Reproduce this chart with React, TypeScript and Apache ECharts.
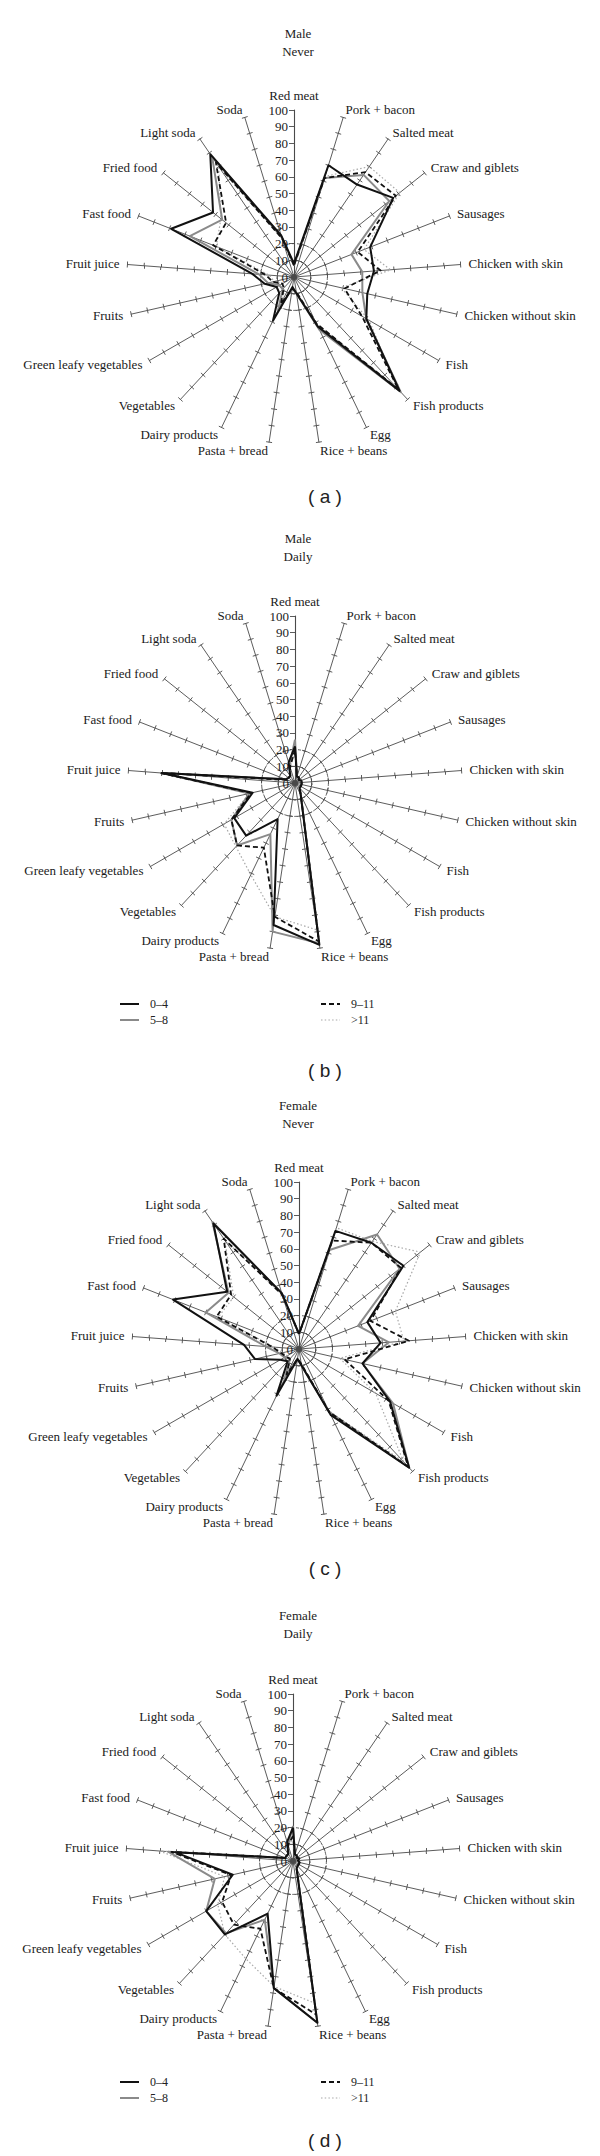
import React, { useEffect, useRef } from 'react';
import * as echarts from 'echarts';

// ---------- data ----------
const CATEGORIES = [
  'Red meat', 'Pork + bacon', 'Salted meat', 'Craw and giblets', 'Sausages',
  'Chicken with skin', 'Chicken without skin', 'Fish', 'Fish products', 'Egg',
  'Rice + beans', 'Pasta + bread', 'Dairy products', 'Vegetables',
  'Green leafy vegetables', 'Fruits', 'Fruit juice', 'Fast food', 'Fried food',
  'Light soda', 'Soda',
];
const AGE_GROUPS = ['0–4', '5–8', '9–11', '>11'];
const PANEL_TITLES = [['Male', 'Never'], ['Male', 'Daily'], ['Female', 'Never'], ['Female', 'Daily']];
const PANEL_CAPTIONS = ['( a )', '( b )', '( c )', '( d )'];
const PANEL_HAS_LEGEND = [false, true, false, true];
const AXIS_MIN = 0;
const AXIS_MAX = 100;
const AXIS_SPLITS = 10;

// (a) Male, never
const maleNever_0_4 = [8, 70, 67, 76, 49, 48, 45, 50, 93, 33, 10, 6, 29, 13, 12, 18, 25, 79, 62, 89, 26];
const maleNever_5_8 = [7, 62, 74, 73, 37, 41, 42, 50, 94, 35, 10, 7, 22, 10, 10, 16, 21, 67, 55, 87, 25];
const maleNever_9_11 = [7, 62, 76, 78, 41, 52, 31, 47, 92, 31, 9, 7, 18, 9, 8, 13, 17, 52, 52, 83, 24];
const maleNever_gt11 = [7, 63, 80, 81, 45, 58, 29, 52, 91, 31, 9, 7, 16, 8, 8, 12, 15, 50, 56, 80, 24];

// (b) Male, daily
const maleDaily_0_4 = [22, 4, 4, 3, 4, 4, 4, 4, 4, 8, 98, 86, 24, 43, 42, 26, 80, 6, 5, 5, 13];
const maleDaily_5_8 = [26, 4, 4, 3, 4, 4, 4, 4, 4, 8, 97, 90, 34, 51, 44, 28, 80, 6, 5, 5, 11];
const maleDaily_9_11 = [20, 4, 4, 3, 4, 4, 4, 4, 4, 8, 96, 81, 43, 51, 44, 27, 81, 5, 5, 5, 10];
const maleDaily_gt11 = [18, 4, 4, 3, 4, 4, 4, 4, 4, 7, 89, 81, 61, 52, 49, 28, 77, 5, 5, 5, 10];

// (c) Female, never
const femaleNever_0_4 = [9, 74, 77, 80, 44, 49, 39, 63, 97, 44, 10, 6, 31, 10, 13, 27, 33, 81, 55, 91, 35];
const femaleNever_5_8 = [9, 62, 83, 77, 38, 54, 39, 65, 97, 42, 10, 6, 20, 8, 10, 12, 20, 60, 54, 92, 35];
const femaleNever_9_11 = [9, 68, 77, 78, 46, 66, 28, 62, 96, 42, 9, 6, 17, 8, 9, 11, 16, 53, 52, 80, 34];
const femaleNever_gt11 = [8, 76, 78, 93, 62, 63, 25, 53, 92, 41, 9, 6, 15, 8, 8, 10, 15, 52, 50, 79, 34];

// (d) Female, daily
const femaleDaily_0_4 = [20, 4, 4, 3, 4, 3, 4, 4, 4, 5, 98, 77, 35, 60, 60, 37, 71, 5, 5, 5, 12];
const femaleDaily_5_8 = [21, 4, 4, 3, 4, 3, 4, 4, 4, 5, 98, 77, 39, 59, 60, 48, 75, 5, 5, 5, 10];
const femaleDaily_9_11 = [15, 4, 4, 3, 4, 3, 4, 4, 4, 5, 93, 77, 45, 52, 49, 38, 73, 5, 5, 5, 10];
const femaleDaily_gt11 = [14, 4, 4, 3, 4, 3, 4, 4, 4, 5, 86, 76, 65, 60, 52, 42, 80, 5, 5, 5, 9];

const PANEL_VALUES = [
  [maleNever_0_4, maleNever_5_8, maleNever_9_11, maleNever_gt11],
  [maleDaily_0_4, maleDaily_5_8, maleDaily_9_11, maleDaily_gt11],
  [femaleNever_0_4, femaleNever_5_8, femaleNever_9_11, femaleNever_gt11],
  [femaleDaily_0_4, femaleDaily_5_8, femaleDaily_9_11, femaleDaily_gt11],
];

// ---------- layout & styles ----------
const W = 600;
const H = 2156;
const R = 167;
const LAYOUT = [
  { cx: 294, cy: 277, titleY: 33, captionY: 496 },
  { cx: 295, cy: 783, titleY: 538, captionY: 1070 },
  { cx: 299, cy: 1349, titleY: 1105, captionY: 1568 },
  { cx: 293, cy: 1861, titleY: 1615, captionY: 2140 },
];
const SERIF = "'Liberation Serif', 'DejaVu Serif', serif";
const SANS = "'Liberation Sans', Arial, sans-serif";
const AXIS_COLOR = '#4a4a4a';

const LINE_STYLES = [
  { color: '#111', width: 2, type: 'solid' },
  { color: '#8a8a8a', width: 2, type: 'solid' },
  { color: '#111', width: 1.8, type: [5, 3] },
  { color: '#a8a8a8', width: 1.2, type: [1.5, 2.2] },
];
const Z_ORDER = [6, 4, 5, 3];

// radar indicators are laid out counter-clockwise; the figure goes clockwise
function clockwise<T>(arr: T[]): T[] {
  return [arr[0], ...arr.slice(1).reverse()];
}

const SPLIT_COLORS = Array.from({ length: AXIS_SPLITS + 1 }, (_, i) =>
  i === 1 || i === 2 ? '#333' : 'rgba(0,0,0,0)'
);

function buildOption() {
  const radar: any[] = [];
  const series: any[] = [];
  const graphic: any[] = [];

  PANEL_VALUES.forEach((values, pi) => {
    const L = LAYOUT[pi];
    const names = clockwise(CATEGORIES);
    radar.push({
      center: [L.cx, L.cy],
      radius: R,
      startAngle: 90,
      shape: 'circle',
      splitNumber: AXIS_SPLITS,
      indicator: names.map((name, i) =>
        i === 0
          ? {
              name, min: AXIS_MIN, max: AXIS_MAX,
              axisTick: { length: 5 },
              axisLine: { lineStyle: { width: 1.1 } },
              axisLabel: { show: true, color: '#222', fontSize: 13, fontFamily: SERIF, margin: 6 },
            }
          : { name, min: AXIS_MIN, max: AXIS_MAX }
      ),
      axisName: { color: '#1a1a1a', fontSize: 13, fontFamily: SERIF },
      nameGap: 8,
      axisLine: { show: true, lineStyle: { color: AXIS_COLOR, width: 0.9 } },
      axisTick: { show: true, length: 3, lineStyle: { color: AXIS_COLOR, width: 0.9 } },
      axisLabel: { show: false },
      splitLine: { show: true, lineStyle: { color: SPLIT_COLORS, type: [3, 2], width: 0.8 } },
      splitArea: { show: false },
    });
    // overlay radar: tick marks on the other side of each spoke
    radar.push({
      center: [L.cx, L.cy],
      radius: R,
      startAngle: 90,
      shape: 'circle',
      splitNumber: AXIS_SPLITS,
      indicator: names.map((name, i) =>
        i === 0
          ? { name, min: AXIS_MIN, max: AXIS_MAX, axisTick: { show: false } }
          : { name, min: AXIS_MIN, max: AXIS_MAX }
      ),
      axisName: { show: false },
      axisLine: { show: false },
      axisTick: { show: true, length: -3, lineStyle: { color: AXIS_COLOR, width: 0.9 } },
      axisLabel: { show: false },
      splitLine: { show: false },
      splitArea: { show: false },
    });

    values.forEach((vals, gi) => {
      series.push({
        type: 'radar',
        radarIndex: pi * 2,
        name: AGE_GROUPS[gi],
        symbol: 'none',
        silent: true,
        z: Z_ORDER[gi],
        lineStyle: LINE_STYLES[gi],
        itemStyle: { color: LINE_STYLES[gi].color },
        emphasis: { disabled: true },
        data: [{ name: AGE_GROUPS[gi], value: clockwise(vals) }],
      });
    });

    // titles
    PANEL_TITLES[pi].forEach((line, li) => {
      graphic.push({
        type: 'text',
        x: 298,
        y: L.titleY + li * 18,
        silent: true,
        style: {
          text: line, fill: '#222', fontSize: 13, fontFamily: SERIF,
          align: 'center', verticalAlign: 'middle', textAlign: 'center', textVerticalAlign: 'middle',
        },
      });
    });
    // caption
    graphic.push({
      type: 'text',
      x: 325,
      y: L.captionY,
      silent: true,
      style: {
        text: PANEL_CAPTIONS[pi], fill: '#222', fontSize: 19, fontFamily: SANS,
        align: 'center', verticalAlign: 'middle', textAlign: 'center', textVerticalAlign: 'middle',
      },
    });
    // legend
    if (PANEL_HAS_LEGEND[pi]) {
      AGE_GROUPS.forEach((g, gi) => {
        const col = gi < 2 ? 0 : 1;
        const row = gi % 2;
        const x0 = col === 0 ? 120 : 321;
        const y = L.cy + 221 + row * 16;
        const st = LINE_STYLES[gi];
        graphic.push({
          type: 'line',
          silent: true,
          shape: { x1: x0, y1: y, x2: x0 + 19, y2: y },
          style: {
            stroke: st.color, lineWidth: st.width,
            lineDash: Array.isArray(st.type) ? st.type : null,
          },
        });
        graphic.push({
          type: 'text',
          x: x0 + 30,
          y,
          silent: true,
          style: {
            text: g, fill: '#222', fontSize: 12, fontFamily: SERIF,
            align: 'left', verticalAlign: 'middle', textAlign: 'left', textVerticalAlign: 'middle',
          },
        });
      });
    }
  });

  return {
    animation: false,
    backgroundColor: '#fff',
    radar,
    series,
    graphic,
  };
}

export default function App() {
  const ref = useRef<HTMLDivElement>(null);
  useEffect(() => {
    if (!ref.current) return;
    const chart = echarts.init(ref.current, undefined, { renderer: 'svg', width: W, height: H });
    chart.setOption(buildOption() as any);
    return () => chart.dispose();
  }, []);
  return (
    <div
      ref={ref}
      style={{ position: 'absolute', left: 0, top: 0, width: W, height: H, background: '#fff' }}
    />
  );
}
